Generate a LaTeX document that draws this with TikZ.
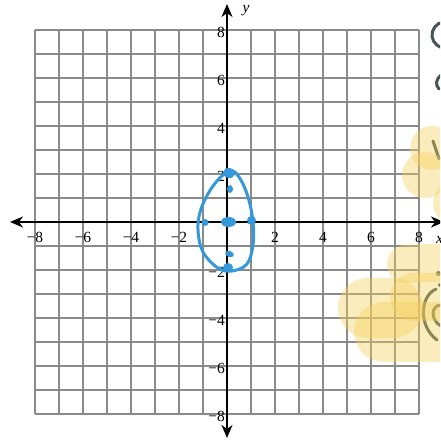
\documentclass[tikz,border=0pt]{standalone}
\usepackage{fontspec}
\setmainfont{Liberation Serif}
\usetikzlibrary{arrows.meta}
\definecolor{gridgray}{RGB}{138,138,138}
\definecolor{curveblue}{RGB}{52,152,219}
\definecolor{inkslate}{RGB}{70,86,86}
\definecolor{hlyellow}{RGB}{245,208,90}
\begin{document}
\begin{tikzpicture}[x=1pt,y=-1pt,
  gridline/.style={draw=gridgray,line width=1.2pt},
  axisline/.style={line width=1.8pt,{Stealth[length=13pt,width=11pt,inset=4pt]}-{Stealth[length=13pt,width=11pt,inset=4pt]}},
  ticklab/.style={font=\fontsize{15.5}{15.5}\selectfont,inner sep=0pt},
  ink/.style={draw=inkslate,line width=3pt,line cap=round},
  hlblob/.style={fill=hlyellow,fill opacity=0.4},
  hlstroke/.style={draw=hlyellow,draw opacity=0.4,line cap=round},
  bluecurve/.style={draw=curveblue,line width=3pt},
  bluedot/.style={fill=curveblue}]
\useasboundingbox (0,0) rectangle (440,441);
\clip (0,0) rectangle (440,441);
\fill[white] (0,0) rectangle (440,441);
% grid
\foreach \i in {0,...,16} {
  \draw[gridline] ({35+24*\i},30) -- ({35+24*\i},414);
  \draw[gridline] (35,{30+24*\i}) -- (419,{30+24*\i});
}
% axes
\coordinate (xleft) at (10,222);
\coordinate (xright) at (444,222);
\coordinate (ybottom) at (227,438);
\coordinate (ytop) at (227,4);
\draw[axisline] (xleft) -- (xright);
\draw[axisline] (ybottom) -- (ytop);
\node[ticklab,anchor=west,font=\fontsize{15.5}{15.5}\selectfont\itshape] (xname) at (436,240) {x};
\node[ticklab,anchor=center,font=\fontsize{15.5}{15.5}\selectfont\itshape] (yname) at (246,11) {y};
% tick labels
\foreach \v/\t in {-8/−8,-6/−6,-4/−4,-2/−2,2/2,4/4,6/6,8/8} {
  \node[ticklab,anchor=north] (xlab\v) at ({227+24*\v},232) {\t};
  \node[ticklab,anchor=east] (ylab\v) at (225,{222-24*\v+2}) {\t};
}
% handwriting (under highlighter)
\draw[ink] (453,24.7) arc[start angle=-52,end angle=-300,radius=13];
\draw[ink] (441,75) .. controls (436,79) and (435,85) .. (439,89);
\draw[ink] (433,141) -- (439,159);
\fill[inkslate] (438.5,273.5) circle (2.5);
\fill[inkslate] (439.5,285) circle (1.8);
\draw[ink] (436,289) .. controls (420,296) and (418,326) .. (437,340);
\draw[ink] (441,305) .. controls (431,305) and (430,320) .. (441,326);
% highlighter
\fill[hlblob] (432,148) circle (22);
\fill[hlblob] (425,175) circle (23);
\fill[hlblob] (454,203) circle (21);
\draw[hlstroke,line width=38pt] (406,264) -- (455,262);
\draw[hlstroke,line width=48pt] (414,297) -- (455,297);
\draw[hlstroke,line width=60pt] (368,308) -- (393,308);
\draw[hlstroke,line width=60pt] (384,332) -- (455,332);
% blue sketch
\draw[bluecurve] plot[smooth cycle,tension=0.6] coordinates {
  (229,171) (213,186) (201,209) (198,230) (203,252) (218,268) (232,271)
  (247,264) (253,245) (253,222) (248,197) (239,177)};
\fill[bluedot,rotate around={-15:(229,173)}] (229,173) ellipse (6 and 5);
\fill[bluedot] (230,189) ellipse (3 and 4);
\fill[bluedot] (228.5,222) ellipse (7.5 and 5);
\fill[bluedot] (205,222.5) circle (3.5);
\fill[bluedot] (251.5,220.5) circle (4.5);
\fill[bluedot,rotate around={-20:(229.5,254)}] (229.5,254) ellipse (4.5 and 3);
\fill[bluedot] (228,267.5) ellipse (5 and 4.5);
\end{tikzpicture}
\end{document}
